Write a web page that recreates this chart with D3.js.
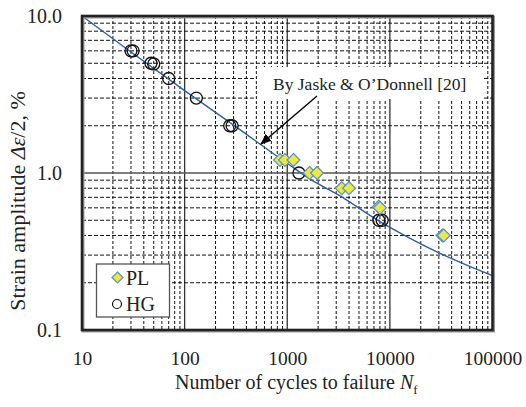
<!DOCTYPE html>
<meta charset="utf-8">
<script src="https://d3js.org/d3.v7.min.js"></script>
<style>
  body { margin: 0; background: #fff; }
  text { font-family: "Liberation Serif", "Times New Roman", serif; fill: #222; }
</style>
<body>
<svg id="chart" width="526" height="407"></svg>
<script>
// ---- data ----
var xTicks = [10, 100, 1000, 10000, 100000];
var yTicks = [0.1, 1, 10];
var yTickLabels = ["0.1", "1.0", "10.0"];

// HG series (open circles)
var hgCycles = [30, 31.5, 47, 50, 70, 130, 275, 290, 1300, 7800, 8400];
var hgStrain = [6.0, 6.0, 5.0, 4.95, 4.0, 3.0, 2.0, 2.0, 1.0, 0.5, 0.5];

// PL series (yellow diamonds)
var plCycles = [850, 950, 1150, 1650, 1950, 3400, 4000, 7800, 8000, 32500, 33500];
var plStrain = [1.21, 1.21, 1.21, 1.0, 1.0, 0.8, 0.8, 0.61, 0.6, 0.4, 0.4];

// Jaske & O'Donnell curve, traced
var curveCycles = [10, 30, 100, 300, 1000, 1734, 3150, 8000, 16950, 30830, 56100, 100000];
var curveStrain = [10.0, 5.9, 3.35, 2.02, 1.15, 0.90, 0.725, 0.49, 0.374, 0.308, 0.259, 0.222];

var svg = d3.select("#chart");

// plot box (note: "top" is taken by window.top)
var pL = 82, pR = 492.5, pT = 16, pB = 330;

var x = d3.scaleLog().domain([10, 100000]).range([pL, pR]);
var y = d3.scaleLog().domain([0.1, 10]).range([pB, pT]);

function isDecade(v) {
    var l = Math.log10(v);
    return Math.abs(l - Math.round(l)) < 1e-9;
}

// grid
var grid = svg.append("g");
x.ticks().forEach(function(v) {
    if (v <= 10 || v >= 100000) return;
    grid.append("line")
        .attr("x1", x(v)).attr("x2", x(v))
        .attr("y1", pT).attr("y2", pB)
        .attr("stroke", isDecade(v) ? "#333" : "#111")
        .attr("stroke-width", isDecade(v) ? 1.3 : 1)
        .attr("stroke-dasharray", isDecade(v) ? null : "3,2");
});
y.ticks().forEach(function(v) {
    if (v <= 0.1 || v >= 10) return;
    grid.append("line")
        .attr("x1", pL).attr("x2", pR)
        .attr("y1", y(v)).attr("y2", y(v))
        .attr("stroke", isDecade(v) ? "#555" : "#111")
        .attr("stroke-width", isDecade(v) ? 1.3 : 1)
        .attr("stroke-dasharray", isDecade(v) ? null : "4,2");
});

// curve
var curveData = curveCycles.map(function(c, i) { return [c, curveStrain[i]]; });
svg.append("path")
    .datum(curveData)
    .attr("fill", "none")
    .attr("stroke", "#2f5f9c")
    .attr("stroke-width", 1.4)
    .attr("d", d3.line()
        .x(function(d) { return x(d[0]); })
        .y(function(d) { return y(d[1]); })
        .curve(d3.curveMonotoneX));

// annotation box + arrow
svg.append("rect")
    .attr("x", 257).attr("y", 67).attr("width", 227).attr("height", 32)
    .attr("fill", "#fff");
svg.append("text")
    .attr("x", 273).attr("y", 90)
    .attr("font-size", 17.5)
    .text("By Jaske & O\u2019Donnell [20]");

svg.append("defs").append("marker")
    .attr("id", "arrow")
    .attr("viewBox", "0 0 10 10")
    .attr("refX", 9).attr("refY", 5)
    .attr("markerWidth", 8).attr("markerHeight", 8)
    .attr("orient", "auto")
  .append("path")
    .attr("d", "M0,1 L10,5 L0,9 Z")
    .attr("fill", "#000");
svg.append("line")
    .attr("x1", 317).attr("y1", 96)
    .attr("x2", 261).attr("y2", 144)
    .attr("stroke", "#000")
    .attr("stroke-width", 1.4)
    .attr("marker-end", "url(#arrow)");

// points
function diamond(cx, cy, r) {
    return "M" + cx + "," + (cy - r) + "L" + (cx + r) + "," + cy +
           "L" + cx + "," + (cy + r) + "L" + (cx - r) + "," + cy + "Z";
}

svg.append("g").selectAll("circle")
    .data(hgCycles)
    .enter().append("circle")
    .attr("cx", function(d) { return x(d); })
    .attr("cy", function(d, i) { return y(hgStrain[i]); })
    .attr("r", 6)
    .attr("fill", "none")
    .attr("stroke", "#111")
    .attr("stroke-width", 1.3);

svg.append("g").selectAll("path")
    .data(plCycles)
    .enter().append("path")
    .attr("d", function(d, i) { return diamond(x(d), y(plStrain[i]), 6.5); })
    .attr("fill", "#e8e84a")
    .attr("stroke", "#5d8fc8")
    .attr("stroke-width", 1.2);

// frame
svg.append("rect")
    .attr("x", pL + 1).attr("y", pT + 1)
    .attr("width", pR - pL).attr("height", pB - pT)
    .attr("fill", "none").attr("stroke", "#999").attr("stroke-width", 3);
svg.append("rect")
    .attr("x", pL).attr("y", pT)
    .attr("width", pR - pL).attr("height", pB - pT)
    .attr("fill", "none").attr("stroke", "#222").attr("stroke-width", 2.6);

// legend
var leg = svg.append("g");
leg.append("rect")
    .attr("x", 96.5).attr("y", 264).attr("width", 73).attr("height", 53)
    .attr("fill", "#fff").attr("stroke", "#555").attr("stroke-width", 1.3);
leg.append("path")
    .attr("d", diamond(117.5, 277.5, 5.5))
    .attr("fill", "#e8e84a").attr("stroke", "#5d8fc8").attr("stroke-width", 1.2);
leg.append("text").attr("x", 126).attr("y", 284.5).attr("font-size", 20).text("PL");
leg.append("circle")
    .attr("cx", 117).attr("cy", 304).attr("r", 4.5)
    .attr("fill", "#fff").attr("stroke", "#111").attr("stroke-width", 1.2);
leg.append("text").attr("x", 126).attr("y", 311).attr("font-size", 20).text("HG");

// axes
var xAxis = svg.append("g")
    .attr("transform", "translate(0,348.5)")
    .call(d3.axisBottom(x).tickValues(xTicks).tickSize(0).tickFormat(d3.format("d")));
xAxis.select(".domain").remove();
xAxis.attr("font-size", 19.5).attr("font-family", null);
xAxis.selectAll("text")
    .attr("font-size", 19.5)
    .attr("fill", "#222");

var yAxis = svg.append("g")
    .attr("transform", "translate(62,0)")
    .call(d3.axisLeft(y).tickValues(yTicks).tickSize(0)
        .tickFormat(function(d, i) { return yTickLabels[i]; }));
yAxis.select(".domain").remove();
yAxis.attr("font-size", 20).attr("font-family", null);
yAxis.selectAll("text")
    .attr("x", 0)
    .attr("font-size", 20)
    .attr("fill", "#222");

// axis titles
var xt = svg.append("text")
    .attr("x", 175).attr("y", 389)
    .attr("font-size", 20);
xt.append("tspan").text("Number of cycles to failure  ");
xt.append("tspan").attr("font-style", "italic").text("N");
xt.append("tspan").attr("font-size", 13).attr("dy", 5).text("f");

var yt = svg.append("text")
    .attr("transform", "translate(25,201) rotate(-90)")
    .attr("text-anchor", "middle")
    .attr("font-size", 22);
yt.append("tspan").text("Strain amplitude  ");
yt.append("tspan").attr("font-style", "italic").text("\u0394\u03b5");
yt.append("tspan").text("/2, %");
</script>
</body>
